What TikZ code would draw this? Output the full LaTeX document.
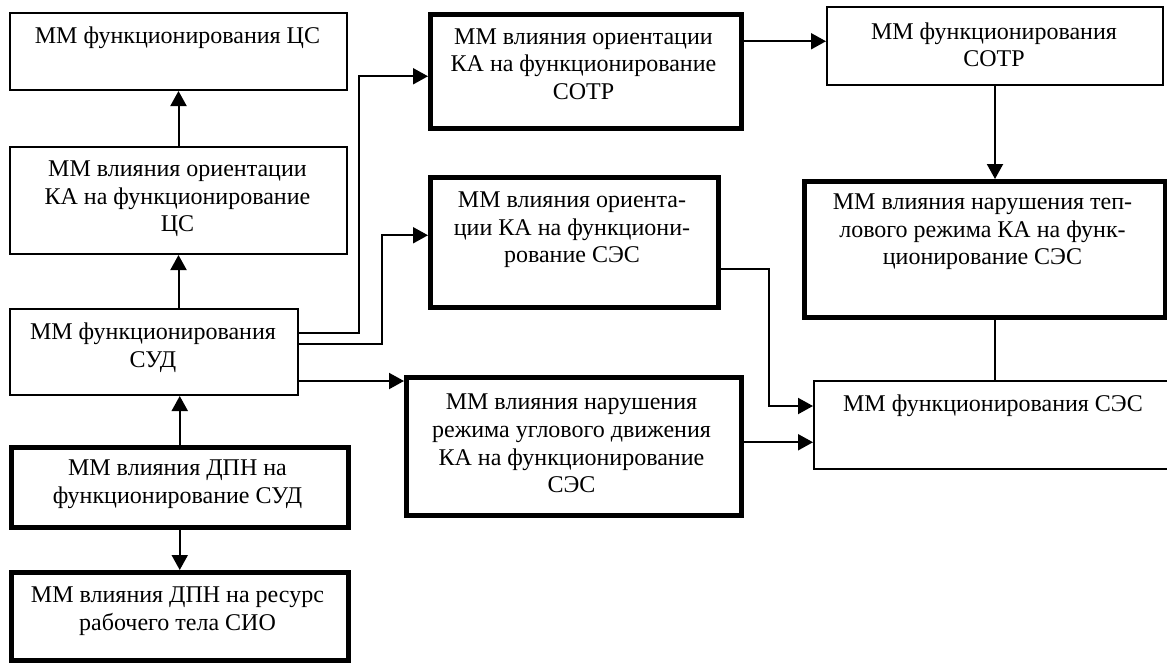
\documentclass[tikz,border=0pt]{standalone}
\usepackage{fontspec}
\setmainfont{Liberation Serif}
\usetikzlibrary{arrows.meta}
\begin{document}
\begin{tikzpicture}[x=1pt,y=-1pt,
 thinbox/.style={draw, line width=2pt, inner sep=0pt, anchor=north west},
 thickbox/.style={draw, line width=4.5pt, inner sep=0pt, anchor=north west},
 txt/.style={align=center, font=\fontsize{24}{27.5}\selectfont, inner sep=0pt},
 arr/.style={line width=2pt, -{Triangle[length=15pt,width=16pt]}},
 ln/.style={line width=2pt}]
\useasboundingbox (0,0) rectangle (1167,662);
\clip (0,0) rectangle (1167,662);
% boxes
\node[thinbox, minimum width=337pt, minimum height=77pt] (A) at (9,12) {};
\node[thinbox, minimum width=337pt, minimum height=107pt] (B) at (9,146) {};
\node[thinbox, minimum width=288pt, minimum height=86pt] (C) at (9,308) {};
\node[thickbox, minimum width=337pt, minimum height=80pt] (D) at (9,445) {};
\node[thickbox, minimum width=337pt, minimum height=88pt] (E) at (9,570) {};
\node[thickbox, minimum width=311pt, minimum height=114pt] (F) at (428,12) {};
\node[thickbox, minimum width=288pt, minimum height=130pt] (G) at (428,175) {};
\node[thickbox, minimum width=335pt, minimum height=138pt] (H) at (404,375) {};
\node[thinbox, minimum width=336pt, minimum height=78pt] (I) at (826,6) {};
\node[thickbox, minimum width=361pt, minimum height=136pt] (J) at (802,179) {};
\node[thinbox, minimum width=362pt, minimum height=88pt] (K) at (813,380) {};
% texts
\node[txt] (At) at (177.5,38) {ММ функционирования ЦС};
\node[txt] (Bt) at (177.5,199) {ММ влияния ориентации\\КА на функционирование\\ЦС};
\node[txt] (Ct) at (153,347.5) {ММ функционирования\\СУД};
\node[txt] (Dt) at (177.5,484) {ММ влияния ДПН на\\функционирование СУД};
\node[txt] (Et) at (177.5,611) {ММ влияния ДПН на ресурс\\рабочего тела СИО};
\node[txt] (Ft) at (583.5,64) {ММ влияния ориентации\\КА на функционирование\\СОТР};
\node[txt] (Gt) at (572,230) {ММ влияния ориента-\\ции КА на функциони-\\рование СЭС};
\node[txt] (Ht) at (571.5,443.5) {ММ влияния нарушения\\режима углового движения\\КА на функционирование\\СЭС};
\node[txt] (It) at (994,45) {ММ функционирования\\СОТР};
\node[txt] (Jt) at (982.5,232) {ММ влияния нарушения теп-\\лового режима КА на функ-\\ционирование СЭС};
\node[txt] (Kt) at (993,406) {ММ функционирования СЭС};
% connectors
\draw[arr] (B.north) -- (A.south);
\draw[arr] (B.south |- C.north) -- (B.south);
\draw[arr] (D.north) -- (D.north |- C.south);
\draw[arr] (D.south) -- (E.north);
\draw[arr] ([yshift=19pt]C.east) -- ++(60,0) |- ([yshift=-5pt]F.west);
\draw[arr] ([yshift=8pt]C.east) -- ++(83,0) |- ([yshift=7pt]G.west);
\draw[arr] ([yshift=-29pt]C.east) -- ([yshift=-29pt]C.east -| H.west);
\draw[arr] ([yshift=30pt]F.east) -- ([yshift=30pt]F.east -| I.west);
\draw[arr] (I.south) -- (I.south |- J.north);
\draw[ln] (I.south |- J.south) -- (I.south |- K.north);
\draw[arr] ([yshift=-27pt]G.east) -- ++(48,0) |- ([yshift=19pt]K.west);
\draw[arr] ([yshift=4pt]H.east) -- ([yshift=4pt]H.east -| K.west);
\end{tikzpicture}
\end{document}
